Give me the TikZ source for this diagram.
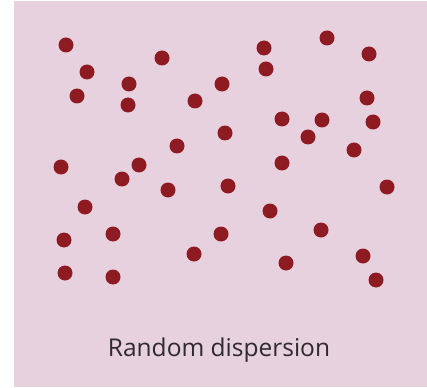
\documentclass[tikz,border=0pt]{standalone}
\usepackage{fontspec}
\setmainfont{Open Sans}
\definecolor{bgpink}{HTML}{E8D1DF}
\definecolor{dotred}{HTML}{8E1B22}
\definecolor{txtgray}{HTML}{2E2A2E}
\tikzset{dot/.style={circle,fill=dotred,inner sep=0pt,minimum size=15pt}}
\begin{document}
\begin{tikzpicture}[x=1pt,y=-1pt]
\useasboundingbox (0,0) rectangle (427,387);
\fill[bgpink] (14,1) rectangle (427,387);
\foreach \i/\x/\y in {1/66/45,2/87/72,3/77/96,4/129/84,5/128/105,6/162/58,7/195/101,8/222/84,9/264/48,10/266/69,11/327/38,12/369/54,13/367/98,14/373/122,15/282/119,16/322/120,17/308/137,18/225/133,19/177/146,20/139/165,21/122/179,22/61/167,23/168/190,24/228/186,25/282/163,26/354/150,27/387/187,28/85/207,29/270/211,30/64/240,31/113/234,32/221/234,33/321/230,34/194/254,35/363/256,36/65/273,37/113/277,38/286/263,39/376/280}
  \node[dot] (d\i) at (\x,\y) {};
\node[text=txtgray,font=\fontsize{24.5}{28}\selectfont] (label) at (219,350) {Random dispersion};
\end{tikzpicture}
\end{document}
